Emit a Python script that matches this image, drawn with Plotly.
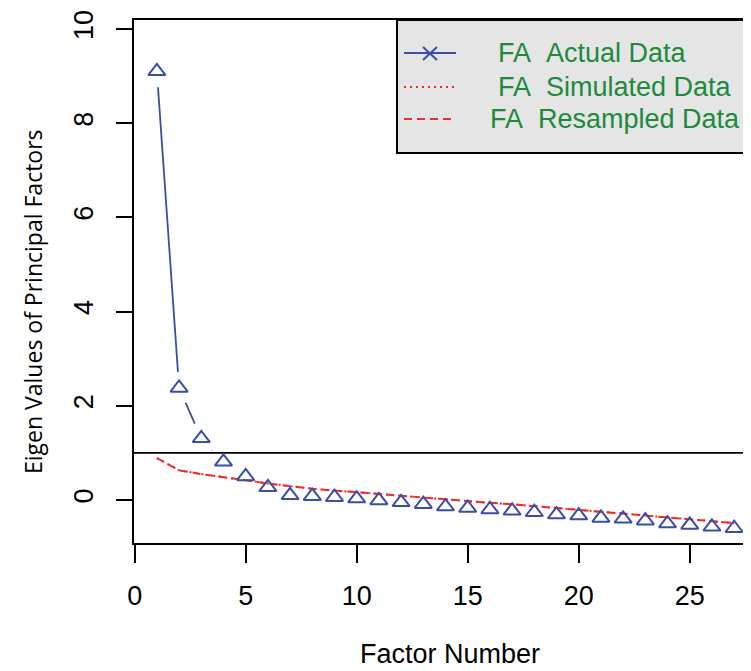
import numpy as np
import plotly.graph_objects as go

# ---------------- data ----------------
factor = list(range(1, 28))
actual = [9.10, 2.38, 1.31, 0.81, 0.50, 0.27, 0.10, 0.08, 0.06, 0.03, -0.01, -0.05, -0.09,
          -0.14, -0.17, -0.20, -0.23, -0.26, -0.31, -0.33, -0.38, -0.40, -0.44, -0.50, -0.53,
          -0.57, -0.60]
simulated = [0.89, 0.63, 0.55, 0.49, 0.42, 0.35, 0.29, 0.24, 0.20, 0.17, 0.13, 0.09, 0.05,
             0.01, -0.02, -0.06, -0.09, -0.13, -0.17, -0.20, -0.25, -0.29, -0.33, -0.36,
             -0.40, -0.44, -0.49]
resampled = [0.89, 0.63, 0.55, 0.49, 0.42, 0.35, 0.29, 0.24, 0.20, 0.17, 0.13, 0.09, 0.05,
             0.01, -0.02, -0.06, -0.09, -0.13, -0.17, -0.20, -0.25, -0.29, -0.33, -0.36,
             -0.40, -0.44, -0.49]
x_ticks = [0, 5, 10, 15, 20, 25]
y_ticks = [0, 2, 4, 6, 8, 10]
legend_labels = ["FA\u00a0\u00a0Actual Data", "FA\u00a0\u00a0Simulated Data", "FA\u00a0\u00a0Resampled Data"]
threshold = 1

# ---------------- layout geometry (window pixels; page body has an 8px margin) ----------------
OFF = 8
WIN_W, WIN_H = 751, 671
W, H = WIN_W - OFF, WIN_H - OFF
PL, PT, PR, PB = 134, 20, 751, 543          # plot box in window pixels
L, T = PL - OFF, PT - OFF
R = W - (PR - OFF)
B = H - (PB - OFF)
XR = [-0.03, 27.76]
YR = [-0.913, 10.19]
pw, ph = PR - PL, PB - PT
sx = pw / (XR[1] - XR[0])
sy = ph / (YR[1] - YR[0])

BLUE = "#3a4ea5"
RED = "#f22a2a"
GREEN = "#1d8a3d"


def px2paper(px, py):
    return (px - PL) / pw, (PB - py) / ph


# gapped line segments (R type="b"), computed from the data in pixel space
gap = 16.0
xs, ys = [], []
xa = np.array(factor, float)
ya = np.array(actual, float)
for i in range(len(xa) - 1):
    dx = (xa[i + 1] - xa[i]) * sx
    dy = (ya[i + 1] - ya[i]) * sy
    d = np.hypot(dx, dy)
    if d <= 2 * gap:
        continue
    f = gap / d
    xs += [xa[i] + (xa[i + 1] - xa[i]) * f, xa[i + 1] - (xa[i + 1] - xa[i]) * f, None]
    ys += [ya[i] + (ya[i + 1] - ya[i]) * f, ya[i + 1] - (ya[i + 1] - ya[i]) * f, None]

fig = go.Figure()
fig.add_trace(go.Scatter(x=[XR[0], XR[1]], y=[threshold, threshold], mode="lines",
                         line=dict(color="black", width=1.6), showlegend=False, hoverinfo="skip"))
fig.add_trace(go.Scatter(x=factor, y=simulated, mode="lines", name=legend_labels[1],
                         line=dict(color=RED, width=2, dash="2px,4px"), showlegend=False))
fig.add_trace(go.Scatter(x=factor, y=resampled, mode="lines", name=legend_labels[2],
                         line=dict(color=RED, width=2, dash="8px,5px"), showlegend=False))
fig.add_trace(go.Scatter(x=xs, y=ys, mode="lines", line=dict(color=BLUE, width=1.8),
                         showlegend=False, hoverinfo="skip"))
fig.add_trace(go.Scatter(x=factor, y=actual, mode="markers", name=legend_labels[0],
                         marker=dict(symbol="triangle-up-open", size=15, color=BLUE,
                                     line=dict(color=BLUE, width=2)), showlegend=False))

shapes = []
annotations = []

# legend box
x0, y0 = px2paper(397, 20)
x1, y1 = px2paper(770, 153)
shapes.append(dict(type="rect", xref="paper", yref="paper", x0=x0, y0=y1, x1=x1, y1=y0,
                   fillcolor="#e5e5e5", line=dict(color="black", width=2), layer="above"))
rows = [53, 87, 119]
dashes = ["solid", "2px,4px", "8px,5px"]
colors = [BLUE, RED, RED]
text_x = [496, 496, 488]
for r, dsh, c, tx, lab in zip(rows, dashes, colors, text_x, legend_labels):
    a0, b0 = px2paper(404, r)
    a1, _ = px2paper(456, r)
    shapes.append(dict(type="line", xref="paper", yref="paper", x0=a0, y0=b0, x1=a1, y1=b0,
                       line=dict(color=c, width=2, dash=dsh), layer="above"))
    tpx, tpy = px2paper(tx, r)
    annotations.append(dict(x=tpx, y=tpy, xref="paper", yref="paper", text=lab,
                            showarrow=False, xanchor="left", yanchor="middle",
                            font=dict(family="Liberation Sans, Arial", size=27, color=GREEN)))
# x marker in legend row 1
for (ax0, ay0, ax1, ay1) in [(423, 47, 437, 60), (423, 60, 437, 47)]:
    p0 = px2paper(ax0, ay0)
    p1 = px2paper(ax1, ay1)
    shapes.append(dict(type="line", xref="paper", yref="paper", x0=p0[0], y0=p0[1],
                       x1=p1[0], y1=p1[1], line=dict(color=BLUE, width=2), layer="above"))

# axis titles
tx, ty = px2paper(450, 670)
annotations.append(dict(x=tx, y=ty, xref="paper", yref="paper", text="Factor Number",
                        showarrow=False, xanchor="center", yanchor="bottom", borderpad=0,
                        font=dict(family="Liberation Sans, Arial", size=27, color="black")))
tx, ty = px2paper(33, 302)
annotations.append(dict(x=tx, y=ty, xref="paper", yref="paper",
                        text="Eigen Values of Principal Factors", textangle=-90,
                        showarrow=False, xanchor="center", yanchor="middle",
                        font=dict(family="Open Sans", size=23, color="black")))

fig.update_layout(
    width=W, height=H,
    margin=dict(l=L, r=R, t=T, b=B, pad=0),
    paper_bgcolor="white", plot_bgcolor="white",
    shapes=shapes, annotations=annotations,
    showlegend=False,
    xaxis=dict(range=XR, tickvals=x_ticks, showgrid=False, zeroline=False,
               showline=True, linecolor="black", linewidth=2, mirror=True,
               ticks="outside", ticklen=18, tickwidth=1.6, tickcolor="black",
               ticklabelstandoff=10,
               tickfont=dict(family="Liberation Sans, Arial", size=27, color="black")),
    yaxis=dict(range=YR, tickvals=y_ticks, showgrid=False, zeroline=False,
               showline=True, linecolor="black", linewidth=2,
               ticks="outside", ticklen=16, tickwidth=1.6, tickcolor="black",
               tickangle=-90, ticklabelstandoff=12,
               tickfont=dict(family="Liberation Sans, Arial", size=27, color="black")),
)

fig.write_html("out.html")
